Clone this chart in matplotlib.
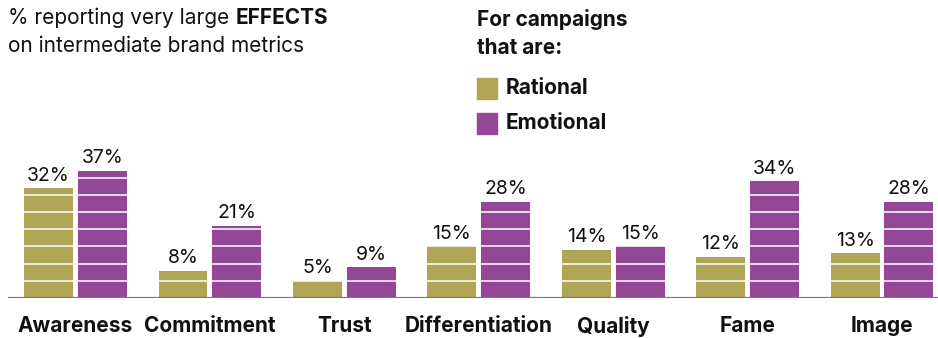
import matplotlib
matplotlib.use("Agg")
import matplotlib.pyplot as plt
from matplotlib.patches import Rectangle

categories = ["Awareness", "Commitment", "Trust", "Differentiation", "Quality", "Fame", "Image"]
rational = [32, 8, 5, 15, 14, 12, 13]
emotional = [37, 21, 9, 28, 15, 34, 28]
series_names = ["Rational", "Emotional"]

OLIVE = "#B0A555"
PURPLE = "#944797"
FONT = "Inter"
INK = "#111111"

plt.rcParams["font.family"] = [FONT, "DejaVu Sans"]

fig = plt.figure(figsize=(9.38, 3.38), dpi=100)
ax = fig.add_axes([8 / 938, 40 / 338, 930 / 938, 158 / 338])

x = list(range(len(categories)))
w = 0.364
off = 0.2
b1 = ax.bar([i - off for i in x], rational, w, color=OLIVE, zorder=2)
b2 = ax.bar([i + off for i in x], emotional, w, color=PURPLE, zorder=2)

# thin white bands every 5 points across the bars
for y in range(5, 50, 5):
    ax.axhline(y, color="white", lw=1.3, alpha=0.85, zorder=3)

for bars, vals in ((b1, rational), (b2, emotional)):
    for bar, v in zip(bars, vals):
        ax.text(bar.get_x() + bar.get_width() / 2, v + 1.0, f"{v}%",
                ha="center", va="bottom", fontsize=14, color=INK, zorder=5)

ax.set_xlim(-0.502, 6.416)
ax.set_ylim(0, 46)
ax.axhline(0, color="#777777", lw=1.6, zorder=4)
for s in ax.spines.values():
    s.set_visible(False)
ax.set_yticks([])
ax.set_xticks(x)
ax.set_xticklabels(categories, fontsize=15, fontweight="bold", color=INK)
ax.tick_params(axis="x", length=0, pad=13)

# headline with one bold word
fig.canvas.draw()
r = fig.canvas.get_renderer()
t1 = fig.text(8 / 938, 1 - 18 / 338, "% reporting very large ", fontsize=15,
              va="center", ha="left", color=INK)
bb = t1.get_window_extent(renderer=r)
fig.text(bb.x1 / fig.bbox.width, 1 - 18 / 338, "EFFECTS", fontsize=15,
         fontweight="bold", va="center", ha="left", color=INK)
fig.text(8 / 938, 1 - 46 / 338, "on intermediate brand metrics", fontsize=15,
         va="center", ha="left", color=INK)

# legend block
fig.text(477 / 938, 1 - 20 / 338, "For campaigns", fontsize=15, fontweight="bold",
         va="center", ha="left", color=INK)
fig.text(477 / 938, 1 - 48 / 338, "that are:", fontsize=15, fontweight="bold",
         va="center", ha="left", color=INK)
for k, (name, col) in enumerate(zip(series_names, [OLIVE, PURPLE])):
    yc = 88 + k * 35
    fig.patches.append(Rectangle((477 / 938, 1 - (yc + 10.5) / 338), 20 / 938, 21 / 338,
                                 transform=fig.transFigure, color=col))
    fig.text(506 / 938, 1 - yc / 338, name, fontsize=15, fontweight="bold",
             va="center", ha="left", color=INK)

fig.savefig("out.png", dpi=100)
